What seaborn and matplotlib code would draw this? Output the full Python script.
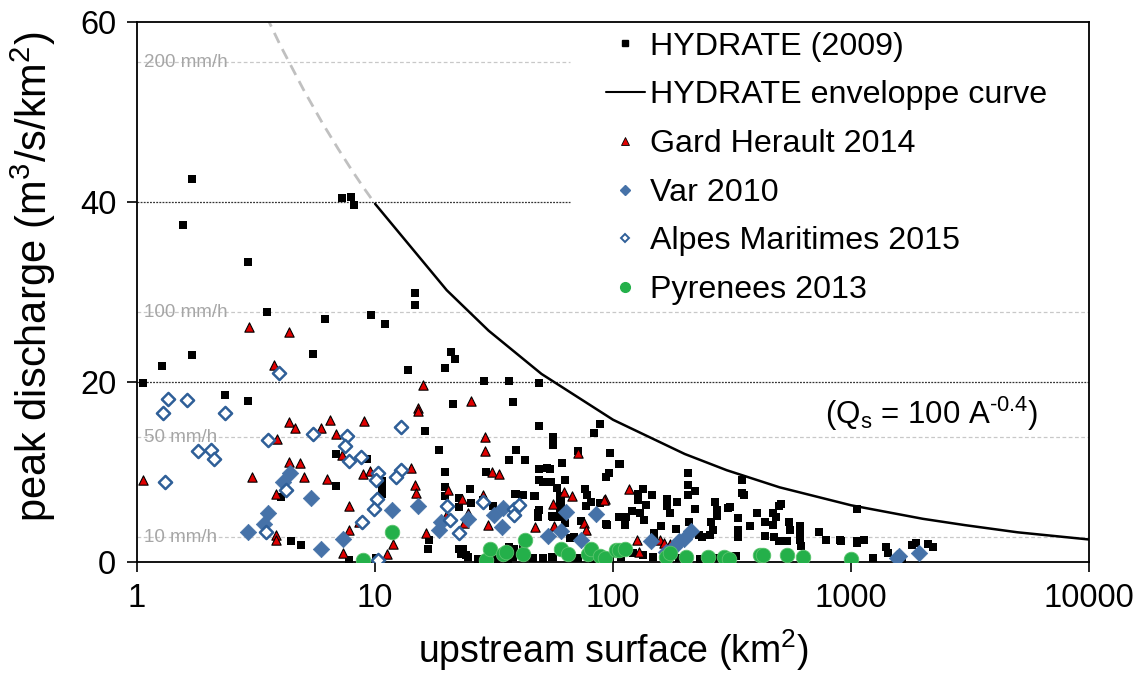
import numpy as np
import pandas as pd
import matplotlib
matplotlib.use("Agg")
import matplotlib.pyplot as plt
from matplotlib.lines import Line2D
import seaborn as sns

# ---------------- data ----------------
hyd_A = [1.70, 1.56, 7.25, 7.96, 8.14, 2.92, 3.52, 6.17, 9.59, 11.0, 14.7, 14.7, 1.70, 1.27, 1.06, 5.48, 13.8, 2.35, 2.92,
         20.8, 21.7, 19.7, 28.7, 36.5, 48.8, 21.3, 38.1,
         6.84, 4.02, 6.84, 9.26, 4.42, 4.89, 7.78,
         16.2, 48.6, 55.8, 55.8, 87.7, 83.0, 18.5, 38.9, 36.7, 42.7,
         71.1, 97.2, 61.1, 19.7, 29.2, 48.6, 54.1, 106, 96.5, 92.9,
         10.7, 10.7, 10.7, 19.7, 25.1, 50.7, 54.6, 62.9, 58.0, 38.8,
         41.4, 76.1, 77.6, 46.3, 22.5, 25.4, 22.5, 60.5, 60.5, 60.5,
         60.5, 80.9, 88.5, 77.1, 31.3, 48.6, 48.2, 55.5, 73.0, 93.5,
         16.9, 16.7, 22.5, 22.9, 24.6, 38.2, 41.8, 46.0, 50.7, 55.5,
         71.1, 65.6, 27.1, 32.2, 36.0, 10.1, 97, 82,
         107, 133, 127, 146, 127, 137, 120, 113, 106, 112,
         94, 130, 135, 206, 206, 206, 221, 169, 169, 185,
         174, 221, 159, 184, 208, 149, 149, 229, 237, 268,
         272, 272, 258, 262, 255, 303, 311, 334, 334, 334,
         348, 348, 404, 374, 436, 436, 468, 507, 496, 485,
         468, 472, 499, 546, 556, 535, 611, 611, 611, 617,
         735, 783, 897, 1057, 1062, 353, 271, 327, 147, 133,
         121, 108, 190, 231,
         905, 1062, 1135, 1230, 1400, 1423, 1640, 1800, 1880, 2094, 2200,
         49, 52.8, 62.5, 59.6, 59.6, 59.6, 60.5, 62.5, 55.8, 48.3,
         46.9, 39.2, 41.8, 36.7, 38.0, 43.6, 50.7, 55.8, 68.8, 67.9,
         23.4, 24.2, 28.4, 19.7, 28.4]
hyd_Q = [42.6, 37.4, 40.5, 40.6, 39.7, 33.3, 27.8, 27.0, 27.4, 26.4, 29.9, 28.6, 23.0, 21.8, 19.9, 23.1, 21.3, 18.6, 17.9,
         23.3, 22.6, 21.6, 20.1, 20.1, 19.9, 17.6, 17.8,
         12.0, 7.2, 8.4, 11.4, 2.3, 1.9, 0.2,
         14.6, 15.1, 13.9, 13.0, 15.3, 14.3, 12.4, 12.4, 11.3, 11.3,
         12.3, 12.1, 11.0, 10.0, 10.0, 10.3, 10.3, 10.9, 9.9, 9.4,
         9.0, 8.1, 7.6, 8.3, 8.1, 8.9, 8.9, 9.1, 8.2, 7.6,
         7.5, 8.1, 7.5, 7.3, 7.1, 6.6, 6.1, 7.1, 6.5, 5.8,
         5.0, 6.7, 6.6, 6.2, 6.2, 5.8, 5.0, 5.1, 4.6, 4.2,
         2.5, 1.5, 1.5, 0.9, 0.6, 1.5, 1.7, 0.5, 0.5, 0.6,
         0.4, 2.7, 0.3, 0.3, 0.3, 0.5, 0.2, 0.2,
         10.9, 8.1, 7.6, 7.5, 6.9, 6.3, 5.7, 5.0, 5.0, 4.1,
         4.1, 5.4, 4.7, 9.9, 8.6, 7.5, 7.9, 7.0, 6.2, 6.7,
         5.5, 5.9, 4.0, 3.7, 4.5, 3.2, 2.4, 3.0, 2.8, 6.7,
         5.8, 5.1, 4.4, 3.6, 3.0, 6.0, 6.1, 4.9, 3.6, 2.8,
         9.1, 7.7, 5.4, 4.0, 4.4, 2.9, 5.4, 6.5, 6.2, 5.0,
         4.1, 2.8, 2.3, 4.4, 3.6, 2.3, 4.0, 3.2, 2.4, 1.8,
         3.3, 2.4, 2.4, 2.3, 5.9, 7.4, 0.4, 0.7, 0.6, 0.8,
         1.0, 0.6, 0.4, 0.3,
         2.3, 2.1, 2.4, 0.4, 1.7, 1.0, 0.1, 1.9, 2.1, 2.0, 1.7,
         9.1, 10.4, 9.1, 7.3, 6.5, 5.8, 5.0, 4.3, 5.0, 5.4,
         7.3, 7.6, 7.4, 1.7, 0.6, 0.6, 0.4, 0.6, 2.8, 0.5,
         1.5, 0.8, 0.2, 7.3, 6.9]

gard_A = [2.96, 4.36, 3.77, 15.9, 25.4, 15.1,
          1.06, 3.04, 4.34, 4.60, 5.90, 6.45, 8.97, 3.87, 6.86, 7.29, 4.34, 4.85, 5.05, 6.31,
          3.82, 8.91, 7.76, 7.76, 3.82, 3.82, 7.34, 8.57,
          15.2, 29.0, 29.0, 14.2, 9.50, 31.0, 33.1, 14.7, 14.9, 20.3, 23.1, 28.5, 55.8, 62.1,
          66.9, 92, 71.1, 24.6, 23.7, 19.8, 29.9, 46.9, 56.5, 75.3, 77.1, 16.3, 11.9, 11.2,
          117, 91.7, 126, 128, 157, 164, 174]
gard_Q = [26.1, 25.6, 21.9, 19.7, 17.9, 17.1,
          9.1, 9.5, 15.6, 14.9, 14.9, 15.8, 15.7, 13.7, 14.2, 11.9, 11.1, 11.0, 9.4, 9.2,
          7.6, 9.8, 6.2, 3.6, 3.0, 2.4, 1.0, 4.4,
          16.8, 13.9, 12.3, 10.4, 10.1, 10.0, 9.8, 8.6, 7.7, 8.0, 7.0, 7.4, 6.5, 7.8,
          7.3, 7.0, 12.1, 5.5, 4.3, 5.1, 4.1, 3.9, 4.0, 4.3, 3.6, 3.2, 2.0, 0.9,
          8.1, 6.9, 2.4, 1.1, 2.4, 2.1, 2.0]

var_A = [4.40, 4.11, 5.37, 3.54, 3.40, 2.93, 5.90, 7.34,
         11.8, 15.2, 19.0, 18.5, 31.5, 34.2, 34.4, 24.6, 63.1, 60.4, 53.2, 73, 84.9,
         144, 190, 199, 213, 167, 181,
         1551, 1590, 1918]
var_Q = [9.9, 8.9, 7.1, 5.5, 4.2, 3.3, 1.4, 2.6,
         5.8, 6.2, 4.4, 3.6, 5.2, 3.9, 6.0, 4.8, 5.6, 3.4, 2.9, 2.5, 5.3,
         2.3, 2.3, 2.6, 3.4, 1.1, 1.7,
         0.5, 0.7, 1.0]

alpes_A = [3.94, 1.35, 1.62, 1.28, 2.35, 1.81, 2.04, 2.11, 1.31, 3.56, 5.46, 7.63, 7.46, 7.76,
           8.69, 4.23, 3.47, 8.81, 12.9, 10.3, 10.1, 12.8, 12.3, 10.2, 9.9, 20.7, 22.5, 28.4,
           38.2, 38.2, 40.2, 10.3, 20.1]
alpes_Q = [21.0, 18.1, 18.0, 16.6, 16.6, 12.3, 12.5, 11.5, 8.9, 13.6, 14.2, 14.0, 12.9, 11.2,
           11.7, 8.0, 3.3, 4.4, 15.0, 9.9, 9.1, 10.2, 9.4, 7.0, 5.9, 4.7, 3.2, 6.7,
           5.9, 5.2, 6.3, 0.2, 6.2]

pyr_A = [11.8, 8.9, 29.2, 30.3, 34.4, 35.6, 41.8, 42.7, 60.5, 64.6, 78.3, 80.9, 88.3, 92,
         103, 106, 112, 167, 174, 202, 251, 292, 307, 414, 426, 540, 627, 997]
pyr_Q = [3.3, 0.2, 0.2, 1.5, 0.9, 1.1, 0.9, 2.4, 1.5, 0.9, 0.9, 1.5, 0.7, 0.4,
         1.3, 1.3, 1.4, 0.6, 1.0, 0.6, 0.6, 0.6, 0.3, 0.8, 0.8, 0.8, 0.6, 0.3]

# HYDRATE envelope curve (Qs = 100 A^-0.4)
env_A = [10, 20, 30, 50, 100, 200, 300, 500, 1000, 2000, 3000, 5000, 10000]
env_Q = [39.8, 30.2, 25.7, 20.9, 15.8, 12.0, 10.2, 8.3, 6.3, 4.8, 4.1, 3.3, 2.5]
ext_A = [3.5, 4, 5, 6, 7, 8, 9, 10]
ext_Q = [60.6, 57.4, 52.5, 48.8, 45.9, 43.5, 41.5, 39.8]

rain_mmh = [10, 50, 100, 200]
rain_labels = ["10 mm/h", "50 mm/h", "100 mm/h", "200 mm/h"]

x_ticks = [1, 10, 100, 1000, 10000]
x_ticklabels = ["1", "10", "100", "1000", "10000"]
y_ticks = [0, 20, 40, 60]

series_names = ["HYDRATE (2009)", "HYDRATE enveloppe curve", "Gard Herault 2014",
                "Var 2010", "Alpes Maritimes 2015", "Pyrenees 2013"]

# ---------------- style ----------------
sns.set_theme(style="ticks")
plt.rcParams["font.family"] = ["Liberation Sans", "DejaVu Sans"]
plt.rcParams["mathtext.fontset"] = "custom"
plt.rcParams["mathtext.rm"] = "Liberation Sans"
plt.rcParams["mathtext.it"] = "Liberation Sans:italic"
plt.rcParams["mathtext.bf"] = "Liberation Sans:bold"
plt.rcParams["text.color"] = "black"
plt.rcParams["axes.labelcolor"] = "black"
plt.rcParams["xtick.color"] = "black"
plt.rcParams["ytick.color"] = "black"
plt.rcParams["axes.unicode_minus"] = False

VAR_C = "#4672A8"
ALP_C = "#2F5F98"
GRN_C = "#24B04A"
RED_C = "#E00000"

fig = plt.figure(figsize=(11.37, 6.79), dpi=100)
ax = fig.add_axes([0.1205, 0.1723, 0.8375, 0.7953])

ax.set_xscale("log")
ax.set_xlim(1, 10000)
ax.set_ylim(0, 60)

# reference lines
for r, lab in zip(rain_mmh, rain_labels):
    q = r / 3.6
    xmax = 0.455 if q > 40 else 1.0
    ax.axhline(q, xmax=xmax, color="#C8C8C8", lw=0.9, ls=(0, (3, 2)), zorder=1)
    ax.text(1.075, q, lab, color="#A6A6A6", fontsize=13.5, va="center", ha="left", zorder=1)
ax.axhline(20, color="#333333", lw=0.9, ls=(0, (1.5, 1)), zorder=1)
ax.axhline(40, xmax=0.455, color="#333333", lw=0.9, ls=(0, (1.5, 1)), zorder=1)

# envelope
sns.lineplot(x=ext_A, y=ext_Q, ax=ax, color="#C0C0C0", lw=2, linestyle=(0, (4, 2.5)),
             sort=False, zorder=2, legend=False)
sns.lineplot(x=env_A, y=env_Q, ax=ax, color="black", lw=1.8, sort=False, zorder=2, legend=False)

# scatter series
sns.scatterplot(x=hyd_A, y=hyd_Q, ax=ax, marker="s", s=30, color="black",
                edgecolor="black", linewidth=0, zorder=3, legend=False)
sns.scatterplot(x=gard_A, y=gard_Q, ax=ax, marker="^", s=45, color=RED_C,
                edgecolor="black", linewidth=0.8, zorder=4, legend=False)
sns.scatterplot(x=var_A, y=var_Q, ax=ax, marker="D", s=70, color=VAR_C,
                edgecolor=VAR_C, linewidth=0.5, zorder=5, legend=False)
sns.scatterplot(x=alpes_A, y=alpes_Q, ax=ax, marker="D", s=45, facecolor="white",
                edgecolor=ALP_C, linewidth=1.8, zorder=5, legend=False)
sns.scatterplot(x=pyr_A, y=pyr_Q, ax=ax, marker="o", s=110, color=GRN_C,
                edgecolor="#5CC46E", linewidth=0.6, zorder=6, legend=False)

# axes
ax.set_xticks(x_ticks)
ax.set_xticklabels(x_ticklabels)
ax.xaxis.set_minor_locator(matplotlib.ticker.NullLocator())
ax.set_yticks(y_ticks)
ax.tick_params(axis="both", which="major", direction="out", length=7, width=1.2,
               labelsize=23.5, color="black", labelcolor="black")
ax.tick_params(axis="x", pad=8)
ax.tick_params(axis="y", pad=8)
for sp in ax.spines.values():
    sp.set_visible(True)
    sp.set_color("black")
    sp.set_linewidth(1.3)

ax.set_xlabel("upstream surface (km$^{\\mathrm{2}}$)", fontsize=27, labelpad=10, color="black")
ax.set_ylabel("peak discharge (m$^{\\mathrm{3}}$/s/km$^{\\mathrm{2}}$)", fontsize=30, color="black")
ax.yaxis.set_label_coords(-0.083, 0.528)

ax.text(0.947, 0.275, "(Q$_{\\mathrm{s}}$ = 100 A$^{\\mathrm{\u20100.4}}$)", transform=ax.transAxes,
        fontsize=22.5, ha="right", va="center", color="black")

handles = [
    Line2D([], [], ls="none", marker="s", ms=4.5, color="black"),
    Line2D([], [], color="black", lw=1.5),
    Line2D([], [], ls="none", marker="^", ms=5.5, mfc=RED_C, mec="black", mew=0.6),
    Line2D([], [], ls="none", marker="D", ms=5.5, color=VAR_C),
    Line2D([], [], ls="none", marker="D", ms=4.5, mfc="white", mec=ALP_C, mew=1.4),
    Line2D([], [], ls="none", marker="o", ms=7, color=GRN_C),
]
leg = ax.legend(handles, series_names, loc="upper left", bbox_to_anchor=(0.4926, 0.982),
                frameon=False, fontsize=23.2, handlelength=1.2, handletextpad=0.15,
                labelspacing=0.58, borderpad=0, borderaxespad=0)
for t in leg.get_texts():
    t.set_color("black")

fig.savefig("out.png", dpi=100)
